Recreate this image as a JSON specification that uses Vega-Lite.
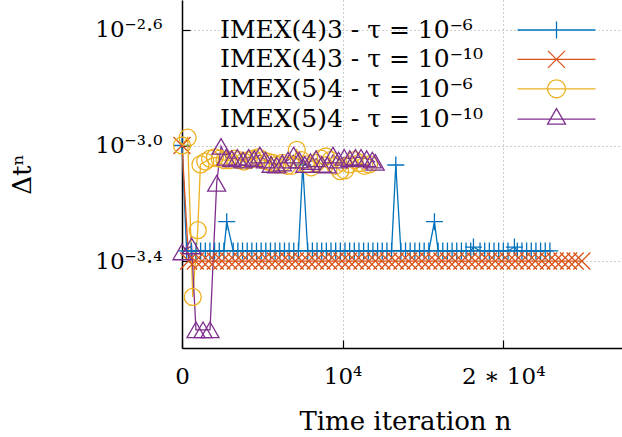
{
  "$schema": "https://vega.github.io/schema/vega-lite/v6.json",
  "width": 440,
  "height": 348,
  "autosize": {"type": "none"},
  "padding": {"left": 182, "top": 0, "right": 0, "bottom": 89},
  "background": "white",
  "config": {
    "view": {"stroke": null},
    "font": "DejaVu Serif",
    "axis": {
      "domainColor": "black",
      "domainWidth": 1.5,
      "tickColor": "black",
      "tickWidth": 1.2,
      "tickSize": -8,
      "grid": true,
      "gridColor": "#9a9a9a",
      "gridDash": [1, 3],
      "gridWidth": 1,
      "labelFont": "DejaVu Serif",
      "labelFontSize": 23,
      "labelColor": "black",
      "labelFlush": false,
      "labelOverlap": false,
      "titleFont": "DejaVu Serif",
      "titleFontWeight": "normal",
      "titleColor": "black"
    }
  },
  "data": {
    "values": [
      {"s": "a", "n": 0, "dt": 0.001},
      {"s": "a", "n": 290, "dt": 0.0004315},
      {"s": "a", "n": 580, "dt": 0.0004315},
      {"s": "a", "n": 870, "dt": 0.0004315},
      {"s": "a", "n": 1160, "dt": 0.0004315},
      {"s": "a", "n": 1450, "dt": 0.0004315},
      {"s": "a", "n": 1740, "dt": 0.0004315},
      {"s": "a", "n": 2030, "dt": 0.0004315},
      {"s": "a", "n": 2320, "dt": 0.0004315},
      {"s": "a", "n": 2610, "dt": 0.0004315},
      {"s": "a", "n": 2785, "dt": 0.000545},
      {"s": "a", "n": 3190, "dt": 0.0004315},
      {"s": "a", "n": 3480, "dt": 0.0004315},
      {"s": "a", "n": 3770, "dt": 0.0004315},
      {"s": "a", "n": 4060, "dt": 0.0004315},
      {"s": "a", "n": 4350, "dt": 0.0004315},
      {"s": "a", "n": 4640, "dt": 0.0004315},
      {"s": "a", "n": 4930, "dt": 0.0004315},
      {"s": "a", "n": 5220, "dt": 0.0004315},
      {"s": "a", "n": 5510, "dt": 0.0004315},
      {"s": "a", "n": 5800, "dt": 0.0004315},
      {"s": "a", "n": 6090, "dt": 0.0004315},
      {"s": "a", "n": 6380, "dt": 0.0004315},
      {"s": "a", "n": 6670, "dt": 0.0004315},
      {"s": "a", "n": 6960, "dt": 0.0004315},
      {"s": "a", "n": 7250, "dt": 0.0004315},
      {"s": "a", "n": 7520, "dt": 0.000856},
      {"s": "a", "n": 7830, "dt": 0.0004315},
      {"s": "a", "n": 8120, "dt": 0.0004315},
      {"s": "a", "n": 8410, "dt": 0.0004315},
      {"s": "a", "n": 8700, "dt": 0.0004315},
      {"s": "a", "n": 8990, "dt": 0.0004315},
      {"s": "a", "n": 9280, "dt": 0.0004315},
      {"s": "a", "n": 9570, "dt": 0.0004315},
      {"s": "a", "n": 9860, "dt": 0.0004315},
      {"s": "a", "n": 10150, "dt": 0.0004315},
      {"s": "a", "n": 10440, "dt": 0.0004315},
      {"s": "a", "n": 10730, "dt": 0.0004315},
      {"s": "a", "n": 11020, "dt": 0.0004315},
      {"s": "a", "n": 11310, "dt": 0.0004315},
      {"s": "a", "n": 11600, "dt": 0.0004315},
      {"s": "a", "n": 11890, "dt": 0.0004315},
      {"s": "a", "n": 12180, "dt": 0.0004315},
      {"s": "a", "n": 12470, "dt": 0.0004315},
      {"s": "a", "n": 12760, "dt": 0.0004315},
      {"s": "a", "n": 13050, "dt": 0.0004315},
      {"s": "a", "n": 13313, "dt": 0.000856},
      {"s": "a", "n": 13630, "dt": 0.0004315},
      {"s": "a", "n": 13920, "dt": 0.0004315},
      {"s": "a", "n": 14210, "dt": 0.0004315},
      {"s": "a", "n": 14500, "dt": 0.0004315},
      {"s": "a", "n": 14790, "dt": 0.0004315},
      {"s": "a", "n": 15080, "dt": 0.0004315},
      {"s": "a", "n": 15370, "dt": 0.0004315},
      {"s": "a", "n": 15720, "dt": 0.000545},
      {"s": "a", "n": 15950, "dt": 0.0004315},
      {"s": "a", "n": 16240, "dt": 0.0004315},
      {"s": "a", "n": 16530, "dt": 0.0004315},
      {"s": "a", "n": 16820, "dt": 0.0004315},
      {"s": "a", "n": 17110, "dt": 0.0004315},
      {"s": "a", "n": 17400, "dt": 0.0004315},
      {"s": "a", "n": 17690, "dt": 0.0004315},
      {"s": "a", "n": 17980, "dt": 0.0004315},
      {"s": "a", "n": 18150, "dt": 0.000445},
      {"s": "a", "n": 18560, "dt": 0.0004315},
      {"s": "a", "n": 18850, "dt": 0.0004315},
      {"s": "a", "n": 19140, "dt": 0.0004315},
      {"s": "a", "n": 19430, "dt": 0.0004315},
      {"s": "a", "n": 19720, "dt": 0.0004315},
      {"s": "a", "n": 20010, "dt": 0.0004315},
      {"s": "a", "n": 20300, "dt": 0.0004315},
      {"s": "a", "n": 20700, "dt": 0.000445},
      {"s": "a", "n": 20880, "dt": 0.0004315},
      {"s": "a", "n": 21170, "dt": 0.0004315},
      {"s": "a", "n": 21460, "dt": 0.0004315},
      {"s": "a", "n": 21750, "dt": 0.0004315},
      {"s": "a", "n": 22040, "dt": 0.0004315},
      {"s": "a", "n": 22330, "dt": 0.0004315},
      {"s": "a", "n": 22620, "dt": 0.0004315},
      {"s": "a", "n": 22910, "dt": 0.0004315},
      {"s": "b", "n": 0, "dt": 0.001},
      {"s": "b", "n": 415, "dt": 0.000398},
      {"s": "b", "n": 830, "dt": 0.000398},
      {"s": "b", "n": 1245, "dt": 0.000398},
      {"s": "b", "n": 1660, "dt": 0.000398},
      {"s": "b", "n": 2075, "dt": 0.000398},
      {"s": "b", "n": 2490, "dt": 0.000398},
      {"s": "b", "n": 2905, "dt": 0.000398},
      {"s": "b", "n": 3320, "dt": 0.000398},
      {"s": "b", "n": 3735, "dt": 0.000398},
      {"s": "b", "n": 4150, "dt": 0.000398},
      {"s": "b", "n": 4565, "dt": 0.000398},
      {"s": "b", "n": 4980, "dt": 0.000398},
      {"s": "b", "n": 5395, "dt": 0.000398},
      {"s": "b", "n": 5810, "dt": 0.000398},
      {"s": "b", "n": 6225, "dt": 0.000398},
      {"s": "b", "n": 6640, "dt": 0.000398},
      {"s": "b", "n": 7055, "dt": 0.000398},
      {"s": "b", "n": 7470, "dt": 0.000398},
      {"s": "b", "n": 7885, "dt": 0.000398},
      {"s": "b", "n": 8300, "dt": 0.000398},
      {"s": "b", "n": 8715, "dt": 0.000398},
      {"s": "b", "n": 9130, "dt": 0.000398},
      {"s": "b", "n": 9545, "dt": 0.000398},
      {"s": "b", "n": 9960, "dt": 0.000398},
      {"s": "b", "n": 10375, "dt": 0.000398},
      {"s": "b", "n": 10790, "dt": 0.000398},
      {"s": "b", "n": 11205, "dt": 0.000398},
      {"s": "b", "n": 11620, "dt": 0.000398},
      {"s": "b", "n": 12035, "dt": 0.000398},
      {"s": "b", "n": 12450, "dt": 0.000398},
      {"s": "b", "n": 12865, "dt": 0.000398},
      {"s": "b", "n": 13280, "dt": 0.000398},
      {"s": "b", "n": 13695, "dt": 0.000398},
      {"s": "b", "n": 14110, "dt": 0.000398},
      {"s": "b", "n": 14525, "dt": 0.000398},
      {"s": "b", "n": 14940, "dt": 0.000398},
      {"s": "b", "n": 15355, "dt": 0.000398},
      {"s": "b", "n": 15770, "dt": 0.000398},
      {"s": "b", "n": 16185, "dt": 0.000398},
      {"s": "b", "n": 16600, "dt": 0.000398},
      {"s": "b", "n": 17015, "dt": 0.000398},
      {"s": "b", "n": 17430, "dt": 0.000398},
      {"s": "b", "n": 17845, "dt": 0.000398},
      {"s": "b", "n": 18260, "dt": 0.000398},
      {"s": "b", "n": 18675, "dt": 0.000398},
      {"s": "b", "n": 19090, "dt": 0.000398},
      {"s": "b", "n": 19505, "dt": 0.000398},
      {"s": "b", "n": 19920, "dt": 0.000398},
      {"s": "b", "n": 20335, "dt": 0.000398},
      {"s": "b", "n": 20750, "dt": 0.000398},
      {"s": "b", "n": 21165, "dt": 0.000398},
      {"s": "b", "n": 21580, "dt": 0.000398},
      {"s": "b", "n": 21995, "dt": 0.000398},
      {"s": "b", "n": 22410, "dt": 0.000398},
      {"s": "b", "n": 22825, "dt": 0.000398},
      {"s": "b", "n": 23240, "dt": 0.000398},
      {"s": "b", "n": 23655, "dt": 0.000398},
      {"s": "b", "n": 24070, "dt": 0.000398},
      {"s": "b", "n": 24485, "dt": 0.000398},
      {"s": "b", "n": 24900, "dt": 0.000398},
      {"s": "c", "n": 0, "dt": 0.001},
      {"s": "c", "n": 350, "dt": 0.001064},
      {"s": "c", "n": 670, "dt": 0.000299},
      {"s": "c", "n": 980, "dt": 0.000509},
      {"s": "c", "n": 1150, "dt": 0.00086},
      {"s": "c", "n": 1450, "dt": 0.00088},
      {"s": "c", "n": 1750, "dt": 0.0009},
      {"s": "c", "n": 2050, "dt": 0.00091},
      {"s": "c", "n": 2350, "dt": 0.0009},
      {"s": "c", "n": 2650, "dt": 0.00089},
      {"s": "c", "n": 2950, "dt": 0.00089},
      {"s": "c", "n": 3250, "dt": 0.0009},
      {"s": "c", "n": 3550, "dt": 0.00089},
      {"s": "c", "n": 3850, "dt": 0.00088},
      {"s": "c", "n": 4150, "dt": 0.00089},
      {"s": "c", "n": 4450, "dt": 0.0009},
      {"s": "c", "n": 4750, "dt": 0.00091},
      {"s": "c", "n": 5050, "dt": 0.00089},
      {"s": "c", "n": 5350, "dt": 0.00088},
      {"s": "c", "n": 5650, "dt": 0.00087},
      {"s": "c", "n": 5950, "dt": 0.00086},
      {"s": "c", "n": 6250, "dt": 0.00087},
      {"s": "c", "n": 6550, "dt": 0.00085},
      {"s": "c", "n": 6850, "dt": 0.00085},
      {"s": "c", "n": 7150, "dt": 0.000966},
      {"s": "c", "n": 7450, "dt": 0.00089},
      {"s": "c", "n": 7750, "dt": 0.00086},
      {"s": "c", "n": 8050, "dt": 0.00084},
      {"s": "c", "n": 8350, "dt": 0.00087},
      {"s": "c", "n": 8650, "dt": 0.0009},
      {"s": "c", "n": 8950, "dt": 0.000916},
      {"s": "c", "n": 9250, "dt": 0.00089},
      {"s": "c", "n": 9550, "dt": 0.00085},
      {"s": "c", "n": 9850, "dt": 0.000815},
      {"s": "c", "n": 10150, "dt": 0.00082},
      {"s": "c", "n": 10450, "dt": 0.00086},
      {"s": "c", "n": 10750, "dt": 0.00089},
      {"s": "c", "n": 11050, "dt": 0.00087},
      {"s": "c", "n": 11350, "dt": 0.00085},
      {"s": "c", "n": 11650, "dt": 0.00086},
      {"s": "d", "n": 0, "dt": 0.000428},
      {"s": "d", "n": 600, "dt": 0.000449},
      {"s": "d", "n": 870, "dt": 0.00023},
      {"s": "d", "n": 1310, "dt": 0.00023},
      {"s": "d", "n": 1745, "dt": 0.00023},
      {"s": "d", "n": 2160, "dt": 0.00074},
      {"s": "d", "n": 2430, "dt": 0.000993},
      {"s": "d", "n": 2750, "dt": 0.00091},
      {"s": "d", "n": 3100, "dt": 0.0009},
      {"s": "d", "n": 3450, "dt": 0.00091},
      {"s": "d", "n": 3800, "dt": 0.00089},
      {"s": "d", "n": 4150, "dt": 0.00091},
      {"s": "d", "n": 4500, "dt": 0.0009},
      {"s": "d", "n": 4850, "dt": 0.000927},
      {"s": "d", "n": 5200, "dt": 0.00089},
      {"s": "d", "n": 5550, "dt": 0.00086},
      {"s": "d", "n": 5900, "dt": 0.000855},
      {"s": "d", "n": 6250, "dt": 0.00087},
      {"s": "d", "n": 6600, "dt": 0.00089},
      {"s": "d", "n": 6950, "dt": 0.000927},
      {"s": "d", "n": 7300, "dt": 0.00089},
      {"s": "d", "n": 7650, "dt": 0.00086},
      {"s": "d", "n": 8000, "dt": 0.00088},
      {"s": "d", "n": 8350, "dt": 0.0009},
      {"s": "d", "n": 8700, "dt": 0.00086},
      {"s": "d", "n": 9050, "dt": 0.000855},
      {"s": "d", "n": 9400, "dt": 0.000927},
      {"s": "d", "n": 9750, "dt": 0.00089},
      {"s": "d", "n": 10100, "dt": 0.00091},
      {"s": "d", "n": 10450, "dt": 0.0009},
      {"s": "d", "n": 10800, "dt": 0.00091},
      {"s": "d", "n": 11150, "dt": 0.00091},
      {"s": "d", "n": 11500, "dt": 0.0009},
      {"s": "d", "n": 11850, "dt": 0.00089},
      {"s": "d", "n": 12030, "dt": 0.000875}
    ]
  },
  "encoding": {
    "x": {
      "field": "n",
      "type": "quantitative",
      "scale": {"domain": [0, 27400], "nice": false, "zero": false},
      "axis": {
        "values": [0, 10000, 20000],
        "labelExpr": "datum.value == 0 ? '0' : datum.value == 10000 ? '10⁴' : '2 ∗ 10⁴'",
        "labelPadding": 43,
        "labelBaseline": "alphabetic",
        "title": "Time iteration n",
        "titleFontSize": 26,
        "titleX": 223,
        "titleY": 81,
        "titleAlign": "center",
        "titleBaseline": "alphabetic"
      }
    },
    "y": {
      "field": "dt",
      "type": "quantitative",
      "scale": {"type": "log", "domain": [0.000199, 0.00319], "nice": false},
      "axis": {
        "values": [0.00039811, 0.001, 0.0025119],
        "labelExpr": "datum.value < 0.0005 ? '10⁻³·⁴' : datum.value < 0.002 ? '10⁻³·⁰' : '10⁻²·⁶'",
        "labelPadding": 28,
        "labelBaseline": "middle",
        "title": "Δtⁿ",
        "titleFontSize": 26,
        "titleX": -160,
        "titleY": 174,
        "titleAngle": -90,
        "titleAlign": "center",
        "titleBaseline": "middle"
      }
    },
    "color": {
      "field": "s",
      "type": "nominal",
      "scale": {"domain": ["a", "b", "c", "d"], "range": ["#0072BD", "#D95319", "#EDB120", "#7E2F8E"]},
      "legend": {
        "orient": "none",
        "legendX": 362,
        "legendY": 17.5,
        "title": null,
        "padding": 0,
        "fillColor": "white",
        "labelExpr": "datum.value == 'a' ? 'IMEX(4)3 - τ = 10⁻⁶' : datum.value == 'b' ? 'IMEX(4)3 - τ = 10⁻¹⁰' : datum.value == 'c' ? 'IMEX(5)4 - τ = 10⁻⁶' : 'IMEX(5)4 - τ = 10⁻¹⁰'",
        "labelFont": "DejaVu Serif",
        "labelFontSize": 25,
        "labelColor": "black",
        "labelOffset": -349,
        "labelAlign": "left",
        "labelLimit": 0,
        "symbolSize": 400,
        "symbolStrokeWidth": 1.3,
        "rowPadding": 3.4,
        "encode": {
          "symbols": {
            "update": {
              "shape": {"signal": "datum.value == 'a' ? 'M-3.9,0H3.9M0,-0.85V0.85' : datum.value == 'b' ? 'M-3.9,0H3.9M-0.85,-0.85L0.85,0.85M-0.85,0.85L0.85,-0.85' : datum.value == 'c' ? 'M-3.9,0H3.9M0.9,0A0.9,0.9,0,1,1,-0.9,0A0.9,0.9,0,1,1,0.9,0' : 'M-3.9,0H3.9M0,-1.06L0.9,0.5L-0.9,0.5Z'"},
              "fill": {"value": "transparent"},
              "strokeWidth": {"value": 1.3}
            }
          }
        }
      }
    }
  },
  "layer": [
    {"mark": {"type": "line", "strokeWidth": 1.3}},
    {
      "transform": [{"filter": "datum.s == 'a'"}],
      "mark": {"type": "point", "filled": false, "strokeWidth": 1.3, "size": 289, "opacity": 1, "shape": "M-1,0H1M0,-1V1"}
    },
    {
      "transform": [{"filter": "datum.s == 'b'"}],
      "mark": {"type": "point", "filled": false, "strokeWidth": 1.3, "size": 289, "opacity": 1, "shape": "M-1,-1L1,1M-1,1L1,-1"}
    },
    {
      "transform": [{"filter": "datum.s == 'c'"}],
      "mark": {"type": "point", "filled": false, "strokeWidth": 1.3, "size": 289, "opacity": 1, "shape": "circle"}
    },
    {
      "transform": [{"filter": "datum.s == 'd'"}],
      "mark": {"type": "point", "filled": false, "strokeWidth": 1.3, "size": 289, "opacity": 1, "shape": "M0,-0.92L1.06,0.92L-1.06,0.92Z"}
    }
  ]
}
